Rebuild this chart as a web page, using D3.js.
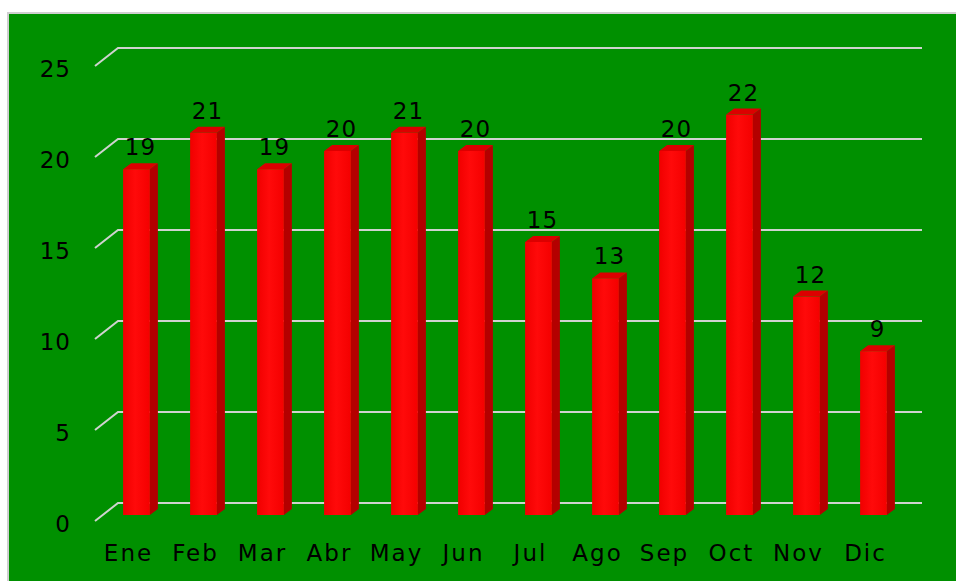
<!DOCTYPE html>
<html>
<head>
<meta charset="utf-8">
<script src="https://cdn.jsdelivr.net/npm/d3@7"></script>
<style>
  body { margin: 0; background: #fff; }
  text { font-family: "DejaVu Sans ExtraLight", "DejaVu Sans", sans-serif; fill: #000; }
</style>
</head>
<body>
<div id="chart"></div>
<script>
const months = ['Ene', 'Feb', 'Mar', 'Abr', 'May', 'Jun', 'Jul', 'Ago', 'Sep', 'Oct', 'Nov', 'Dic'];
const values = [19, 21, 19, 20, 21, 20, 15, 13, 20, 22, 12, 9];
const yTicks = [0, 5, 10, 15, 20, 25];

// set the dimensions of the graph
const svgWidth = 956, svgHeight = 581;
const front = { x: 95, y: 521 };      // front plane origin
const depth = { dx: 23, dy: -18 };    // offset to back wall
const barFront = { dx: 8, dy: -6 };   // bar front face offset
const barBack = { dx: 16, dy: -12 };  // bar back face offset

const x = d3.scaleBand().domain(months).range([front.x, 899]).padding(0);
const h = d3.scaleLinear().domain([0, 25]).range([0, 455]);
const barW = x.bandwidth() * 0.4;

let svg = d3.select('#chart')
  .append('svg')
  .attr('width', svgWidth)
  .attr('height', svgHeight);

let defs = svg.append('defs');
let grad = defs.append('linearGradient').attr('id', 'barFace');
grad.append('stop').attr('offset', '0%').attr('stop-color', '#f00000');
grad.append('stop').attr('offset', '45%').attr('stop-color', '#ff0a0a');
grad.append('stop').attr('offset', '100%').attr('stop-color', '#f40000');

// background panel
svg.append('rect')
  .attr('x', 8).attr('y', 13)
  .attr('width', svgWidth).attr('height', svgHeight)
  .attr('fill', '#009000')
  .attr('stroke', '#cfcfcf')
  .attr('stroke-width', 2);

// gridlines: diagonal on the side wall + line along back wall
let grid = svg.append('g');
yTicks.forEach(t => {
  let yf = front.y - h(t);
  let yb = yf + depth.dy;
  grid.append('path')
    .attr('d', `M${front.x},${yf}L${front.x + depth.dx},${yb}L${899 + depth.dx},${yb}`)
    .attr('fill', 'none')
    .attr('stroke', '#cfd3cf')
    .attr('stroke-width', 2);
  grid.append('text')
    .attr('x', 71)
    .attr('y', yf + 11)
    .attr('text-anchor', 'end')
    .style('font-size', '23px')
    .style('letter-spacing', '1px')
    .text(t);
});

// bars
let bars = svg.append('g')
  .selectAll('g')
  .data(values.map((v, i) => ({ m: months[i], v: v })))
  .enter()
  .append('g');

bars.each(function(d) {
  let g = d3.select(this);
  let cx = x(d.m) + x.bandwidth() / 2;
  let x0 = cx - barW / 2 + barFront.dx, x1 = x0 + barW;
  let yb = front.y + barFront.dy, yt = yb - h(d.v);
  let ox = barBack.dx - barFront.dx, oy = barBack.dy - barFront.dy;
  // side
  g.append('path')
    .attr('d', `M${x1},${yb}L${x1 + ox},${yb + oy}L${x1 + ox},${yt + oy}L${x1},${yt}Z`)
    .attr('fill', '#b40000');
  // top
  g.append('path')
    .attr('d', `M${x0},${yt}L${x0 + ox},${yt + oy}L${x1 + ox},${yt + oy}L${x1},${yt}Z`)
    .attr('fill', '#dc0000');
  // front
  g.append('rect')
    .attr('x', x0).attr('y', yt)
    .attr('width', barW).attr('height', h(d.v))
    .attr('fill', 'url(#barFace)');
  // value label
  g.append('text')
    .attr('x', cx + (barFront.dx + barBack.dx) / 2)
    .attr('y', yt + oy - 8)
    .attr('text-anchor', 'middle')
    .style('font-size', '23px')
    .style('letter-spacing', '1px')
    .text(d.v);
});

// category labels
svg.append('g')
  .selectAll('text')
  .data(months)
  .enter()
  .append('text')
  .attr('x', d => x(d) + x.bandwidth() / 2)
  .attr('y', 561)
  .attr('text-anchor', 'middle')
  .style('font-size', '23px')
  .style('letter-spacing', '2px')
  .text(d => d);
</script>
</body>
</html>
